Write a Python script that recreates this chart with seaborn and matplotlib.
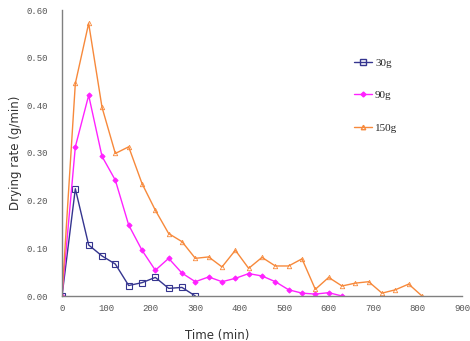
import matplotlib
matplotlib.use("Agg")
import matplotlib.pyplot as plt
import seaborn as sns
import pandas as pd
from matplotlib.lines import Line2D

# ---- data ----
time_30g = [0, 30, 60, 90, 120, 150, 180, 210, 240, 270, 300]
rate_30g = [0.0, 0.225, 0.107, 0.084, 0.067, 0.022, 0.028, 0.039, 0.016, 0.018, 0.0]

time_90g = [0, 30, 60, 90, 120, 150, 180, 210, 240, 270, 300, 330, 360, 390,
            420, 450, 480, 510, 540, 570, 600, 630]
rate_90g = [0.0, 0.313, 0.421, 0.293, 0.243, 0.149, 0.096, 0.054, 0.079, 0.048,
            0.030, 0.040, 0.030, 0.037, 0.047, 0.042, 0.030, 0.013, 0.006, 0.004,
            0.007, 0.0]

time_150g = [0, 30, 60, 90, 120, 150, 180, 210, 240, 270, 300, 330, 360, 390,
             420, 450, 480, 510, 540, 570, 600, 630, 660, 690, 720, 750, 780, 810]
rate_150g = [0.0, 0.446, 0.572, 0.396, 0.299, 0.313, 0.236, 0.180, 0.131, 0.114,
             0.079, 0.082, 0.061, 0.096, 0.058, 0.081, 0.063, 0.063, 0.078, 0.014,
             0.039, 0.021, 0.027, 0.030, 0.006, 0.013, 0.025, 0.0]

series_names = ["30g", "90g", "150g"]
x_ticks = [0, 100, 200, 300, 400, 500, 600, 700, 800, 900]
y_ticks = [0.0, 0.1, 0.2, 0.3, 0.4, 0.5, 0.6]

df = pd.concat([
    pd.DataFrame({"Time": time_30g, "Rate": rate_30g, "Mass": "30g"}),
    pd.DataFrame({"Time": time_90g, "Rate": rate_90g, "Mass": "90g"}),
    pd.DataFrame({"Time": time_150g, "Rate": rate_150g, "Mass": "150g"}),
], ignore_index=True)

sns.set_style("white")
plt.rcParams["font.family"] = ["DejaVu Sans"]

colors = {"30g": "#35358f", "90g": "#ff22ff", "150g": "#f7893b"}
markers = {"30g": "s", "90g": "D", "150g": "^"}

fig = plt.figure(figsize=(4.70, 3.41), dpi=100)
ax = fig.add_axes([62 / 470, 45 / 341, 400 / 470, 286 / 341])

sns.lineplot(data=df, x="Time", y="Rate", hue="Mass", style="Mass",
             hue_order=series_names, style_order=series_names,
             palette=colors, markers=markers, dashes=False, sort=False,
             linewidth=1.0, ax=ax, legend=False)

for line, name in zip(ax.get_lines(), series_names):
    c = colors[name]
    if name == "30g":
        line.set_markersize(4.2)
        line.set_markerfacecolor("none")
        line.set_markeredgecolor(c)
        line.set_markeredgewidth(0.8)
    elif name == "90g":
        line.set_markersize(2.6)
        line.set_markerfacecolor(c)
        line.set_markeredgecolor(c)
    else:
        line.set_markersize(3.2)
        line.set_markerfacecolor("none")
        line.set_markeredgecolor(c)
        line.set_markeredgewidth(0.6)

ax.set_xlim(0, 900)
ax.set_ylim(0, 0.6)
ax.set_xticks(x_ticks)
ax.set_yticks(y_ticks)
ax.set_xticklabels([str(t) for t in x_ticks], family="Liberation Mono",
                   fontsize=6.5, color="#555555")
ax.set_yticklabels([f"{t:.2f}" for t in y_ticks], family="Liberation Mono",
                   fontsize=6.5, color="#555555")

for s in ["top", "right"]:
    ax.spines[s].set_visible(False)
for s in ["left", "bottom"]:
    ax.spines[s].set_color("#808080")
    ax.spines[s].set_linewidth(1.0)
ax.tick_params(axis="both", direction="inout", length=4, width=0.8,
               color="#555555")
ax.tick_params(axis="y", pad=8)
ax.tick_params(axis="x", pad=4)

ax.set_xlabel("Time (min)", fontsize=8.5, color="#333333")
ax.set_ylabel("Drying rate (g/min)", fontsize=8.5, color="#333333")
ax.xaxis.set_label_coords(0.3875, -0.115)
ax.yaxis.set_label_coords(-0.10, 0.5)

handles = []
for name in series_names:
    c = colors[name]
    if name == "30g":
        h = Line2D([], [], color=c, marker="s", markersize=4,
                   markerfacecolor="none", markeredgecolor=c, lw=1.0)
    elif name == "90g":
        h = Line2D([], [], color=c, marker="D", markersize=2.5,
                   markerfacecolor=c, markeredgecolor=c, lw=1.0)
    else:
        h = Line2D([], [], color=c, marker="^", markersize=3.2,
                   markerfacecolor="none", markeredgecolor=c, lw=1.0)
    handles.append(h)
ax.legend(handles, series_names, loc="upper left",
          bbox_to_anchor=(282 / 400, (296 - 48) / 286), frameon=False,
          handlelength=1.6, labelspacing=2.05, handletextpad=0.3,
          prop={"family": "Liberation Serif", "size": 8})

fig.savefig("out.png", dpi=100)
